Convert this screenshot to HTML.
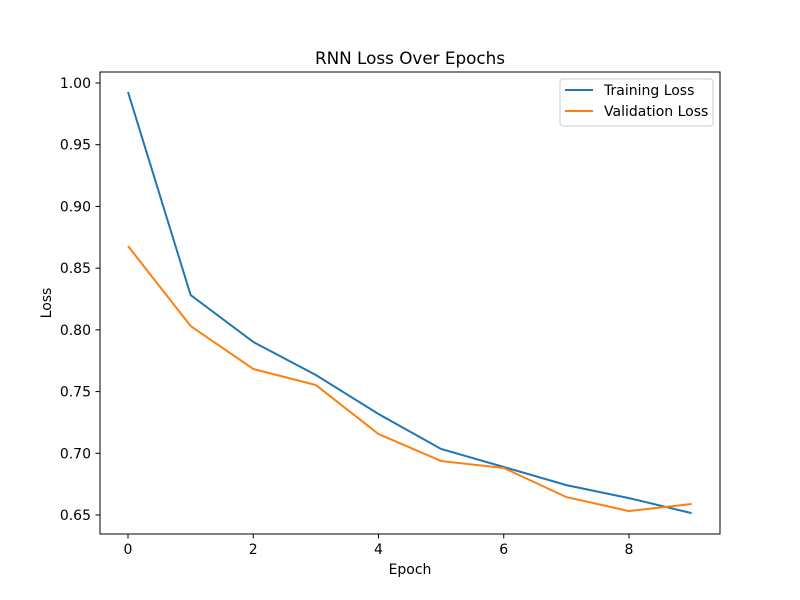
<!DOCTYPE html>
<html><head><meta charset="utf-8"><style>
body{margin:0;background:#fff;}
svg{display:block;font-family:"DejaVu Sans","Liberation Sans",sans-serif;}
</style></head><body>
<svg id="chart" width="800" height="600">
<rect x="0" y="0" width="800" height="600" fill="#fff"/>
<text x="410" y="64" font-size="16.8" text-anchor="middle">RNN Loss Over Epochs</text>
<g id="grid"></g>
<g id="lines"></g>
<rect x="100" y="72" width="620" height="462" fill="none" stroke="#000" stroke-width="1"/>
<text x="410" y="574" font-size="14" text-anchor="middle">Epoch</text>
<text x="51" y="303" font-size="14" text-anchor="middle" transform="rotate(-90 51 303)">Loss</text>
<g>
<rect x="560" y="79" width="153" height="47" rx="3" fill="#fff" stroke="#ccc"/>
<line x1="565" y1="90" x2="593" y2="90" stroke="#1f77b4" stroke-width="2"/>
<text x="604" y="95" font-size="14">Training Loss</text>
<line x1="565" y1="111" x2="593" y2="111" stroke="#ff7f0e" stroke-width="2"/>
<text x="604" y="116" font-size="14">Validation Loss</text>
</g>
</svg>
<script>
const epochs=[0,1,2,3,4,5,6,7,8,9];
const trainingLoss=[0.9927,0.8282,0.7902,0.7634,0.7318,0.7035,0.6889,0.6742,0.6637,0.6515];
const validationLoss=[0.8679,0.8031,0.7683,0.7553,0.7156,0.6937,0.6881,0.6645,0.6532,0.6589];
const xTicks=[0,2,4,6,8];
const yTicks=[0.65,0.70,0.75,0.80,0.85,0.90,0.95,1.00];
const NS="http://www.w3.org/2000/svg";
function xs(v){return 128+v*(629-128)/8;}
function ys(v){return 515-(v-0.65)*(515-83)/0.35;}
const g=document.getElementById('grid');
xTicks.forEach(t=>{
 const l=document.createElementNS(NS,'line');
 l.setAttribute('x1',xs(t));l.setAttribute('x2',xs(t));l.setAttribute('y1',534);l.setAttribute('y2',538.5);l.setAttribute('stroke','#000');
 
 
 g.appendChild(l);
 const tx=document.createElementNS(NS,'text');
 tx.setAttribute('x',xs(t));tx.setAttribute('y',554);tx.setAttribute('font-size','14');tx.setAttribute('text-anchor','middle');tx.textContent=t;
 
 
 g.appendChild(tx);
});
yTicks.forEach(t=>{
 const l=document.createElementNS(NS,'line');
 l.setAttribute('x1',95.5);l.setAttribute('x2',100);l.setAttribute('y1',ys(t));l.setAttribute('y2',ys(t));l.setAttribute('stroke','#000');
 
 
 g.appendChild(l);
 const tx=document.createElementNS(NS,'text');
 tx.setAttribute('x',91);tx.setAttribute('y',ys(t)+5);tx.setAttribute('font-size','14');tx.setAttribute('text-anchor','end');tx.textContent=t.toFixed(2);
 
 
 g.appendChild(tx);
});
const L=document.getElementById('lines');
function draw(vals,color,name){
 const p=document.createElementNS(NS,'polyline');
 p.setAttribute('points',vals.map((v,i)=>xs(epochs[i])+','+ys(v)).join(' '));
 p.setAttribute('fill','none');p.setAttribute('stroke',color);p.setAttribute('stroke-width','2');
 
 
 L.appendChild(p);
}
draw(trainingLoss,'#1f77b4','training-loss-line');
draw(validationLoss,'#ff7f0e','validation-loss-line');
</script>
</body></html>
